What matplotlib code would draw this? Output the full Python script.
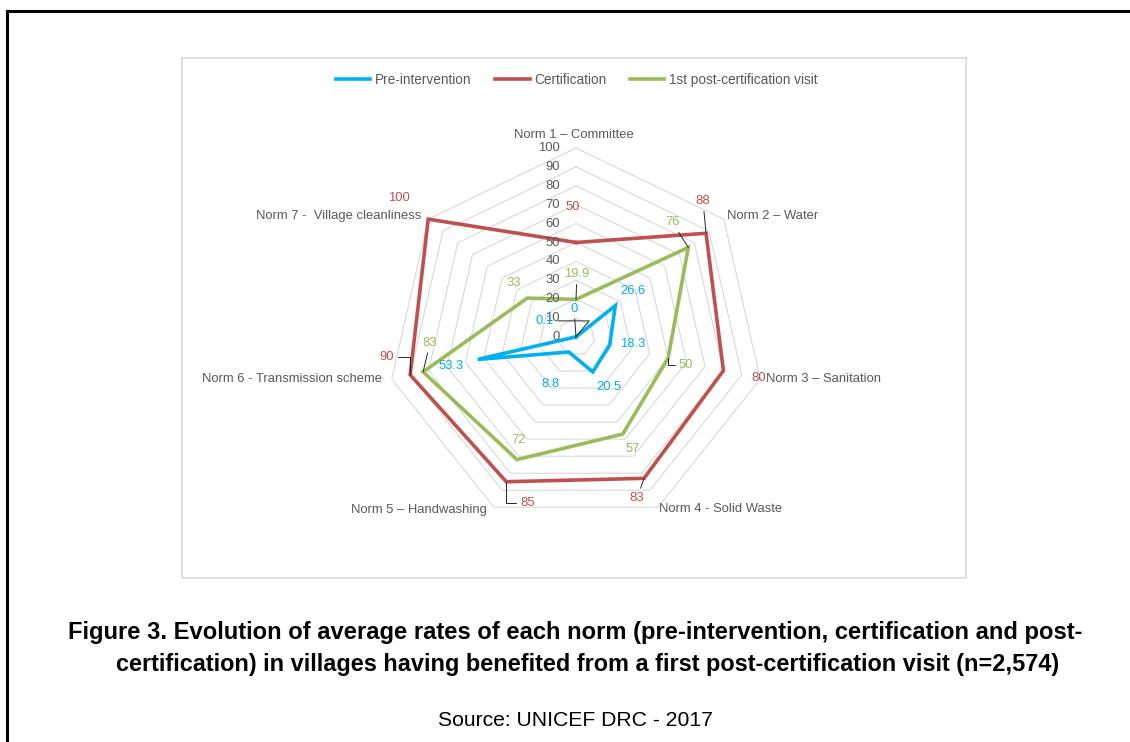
import numpy as np
import matplotlib
matplotlib.use('Agg')
import matplotlib.pyplot as plt
from matplotlib.patches import Rectangle
from matplotlib.lines import Line2D

plt.rcParams['font.family'] = ['Liberation Sans', 'DejaVu Sans']

# data
norms = ['Norm 1 \u2013 Committee', 'Norm 2 \u2013 Water', 'Norm 3 \u2013 Sanitation',
         'Norm 4 - Solid Waste', 'Norm 5 \u2013 Handwashing',
         'Norm 6 - Transmission scheme', 'Norm 7 -  Village cleanliness']
pre = [0, 26.6, 18.3, 20.5, 8.8, 53.3, 0.1]
cert = [50, 88, 80, 83, 85, 90, 100]
post = [19.9, 76, 50, 57, 72, 83, 33]
levels = [0, 10, 20, 30, 40, 50, 60, 70, 80, 90, 100]

BLUE = '#00B0F0'
RED = '#C0504D'
GREEN = '#9BBB59'
GREY = '#595959'

W, H = 1130, 742
fig = plt.figure(figsize=(W / 100, H / 100), dpi=100)

# outer page border (top and left only visible)
fig.add_artist(Line2D([7 / W, 1], [1 - 11 / H, 1 - 11 / H], color='black', lw=2.2, transform=fig.transFigure))
fig.add_artist(Line2D([7 / W, 7 / W], [1 - 11 / H, 0], color='black', lw=2.2, transform=fig.transFigure))

# chart area frame
fig.add_artist(Rectangle((182 / W, 1 - 578 / H), (966 - 182) / W, (578 - 58) / H,
                         transform=fig.transFigure, fill=False, edgecolor='#D9D9D9', lw=1.2))

# radar axes
cx, cy, R = 576, 337, 189
ax = fig.add_axes([(cx - R) / W, (H - cy - R) / H, 2 * R / W, 2 * R / H], projection='polar')
ax.set_theta_zero_location('N')
ax.set_theta_direction(-1)
ax.set_ylim(0, 100)
ax.grid(False)
ax.set_xticks([])
ax.set_yticks([])
ax.spines['polar'].set_visible(False)
ax.patch.set_alpha(0)

n = len(norms)
theta = np.arange(n) * 2 * np.pi / n
tc = np.append(theta, theta[0])

for lv in levels[1:]:
    ax.plot(tc, [lv] * (n + 1), color='#D9D9D9', lw=0.8, clip_on=False, zorder=1)

for vals, col, lab in [(pre, BLUE, 'Pre-intervention'), (cert, RED, 'Certification'),
                       (post, GREEN, '1st post-certification visit')]:
    ax.plot(tc, np.append(vals, vals[0]), color=col, lw=2.6, clip_on=False, zorder=3,
            solid_joinstyle='miter', label=lab)

# radial tick labels
for lv in levels:
    ax.annotate(str(lv), xy=(0, lv), xytext=(-16, 0), textcoords='offset pixels',
                ha='right', va='center', fontsize=9.4, color=GREY, annotation_clip=False)

# category labels
cat_off = [(-2, 13, 'center'), (3, 3, 'left'), (6, 0, 'left'), (1, -2, 'left'),
           (-7, -3, 'right'), (-10, 0, 'right'), (-7, 3, 'right')]
for t, name, (dx, dy, ha) in zip(theta, norms, cat_off):
    ax.annotate(name, xy=(t, 100), xytext=(dx, dy), textcoords='offset pixels',
                ha=ha, va='center', fontsize=9.4, color=GREY, annotation_clip=False)

# data labels: pixel offsets, leader line (0 none, 1 straight, 2 elbow, 3 bent)
cert_off = [(-3, 35, 0), (-3, 32, 1), (35, -7, 0), (-7, -20, 1), (21, -21, 2), (-24, 18, 2), (-29, 21, 0)]
post_off = [(1, 25, 1), (-16, 25, 1), (18, -7, 2), (10, -15, 0), (2, 20, 0), (7, 29, 1), (-14, 15, 0)]
pre_off = [(-2, 28, 1), (18, 15, 0), (23, 1, 0), (16, -15, 0), (-18, -32, 0), (-27, -7, 0), (-31, 16, 3)]
styles = {1: 'arc3', 2: 'angle,angleA=0,angleB=90,rad=0', 3: 'angle,angleA=0,angleB=50,rad=0'}

for vals, col, offs in [(cert, RED, cert_off), (post, GREEN, post_off), (pre, BLUE, pre_off)]:
    for t, v, (dx, dy, lead) in zip(theta, vals, offs):
        kw = {}
        if lead:
            kw['arrowprops'] = dict(arrowstyle='-', color='#262626', lw=0.7, shrinkA=1, shrinkB=0,
                                    connectionstyle=styles[lead])
        ax.annotate(f'{v:g}', xy=(t, v), xytext=(dx, dy), textcoords='offset pixels',
                    ha='center', va='center', fontsize=9.4, color=col,
                    annotation_clip=False, zorder=4, **kw)

# legend
fig.legend(loc='center', bbox_to_anchor=(577 / W, 1 - 80 / H), ncol=3, frameon=False,
           fontsize=9.8, handlelength=2.5, handletextpad=0.35, columnspacing=1.75,
           labelcolor=GREY)

# caption
fig.text(575 / W, 1 - 632 / H,
         'Figure 3. Evolution of average rates of each norm (pre-intervention, certification and post-',
         ha='center', va='center', fontsize=17.1, fontweight='bold')
fig.text(588 / W, 1 - 664 / H,
         'certification) in villages having benefited from a first post-certification visit (n=2,574)',
         ha='center', va='center', fontsize=16.9, fontweight='bold')
fig.text(575 / W, 1 - 721 / H, 'Source: UNICEF DRC - 2017', ha='center', va='center', fontsize=15.2)

fig.savefig('out.png', dpi=100)
